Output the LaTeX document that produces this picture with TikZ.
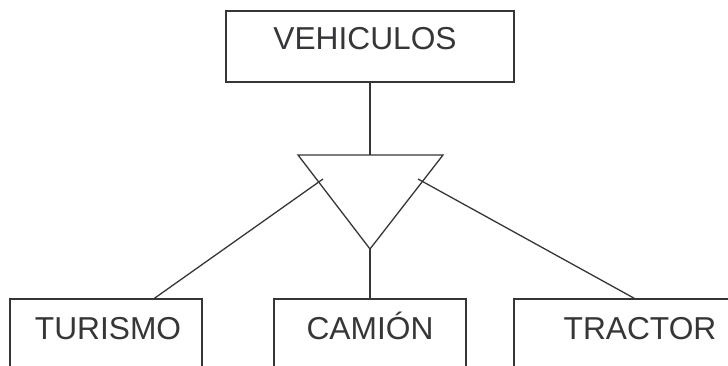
\documentclass[tikz,border=0pt]{standalone}
\usepackage{fontspec}
\setmainfont{Liberation Sans}
\usetikzlibrary{calc}
\definecolor{ink}{HTML}{363638}
\tikzset{
  box/.style={draw=ink, line width=1.3pt, rectangle, inner sep=0pt},
  lbl/.style={anchor=base, inner sep=0pt, text=ink, font=\fontsize{31.7}{38}\selectfont},
  link/.style={draw=ink, line width=1.3pt},
}
\begin{document}
\begin{tikzpicture}[x=1pt, y=-1pt]
  \useasboundingbox (0,0) rectangle (728,366);
  \clip (0,0) rectangle (728,366);

  % parent entity
  \node[box, minimum width=288pt, minimum height=71pt] (veh) at (370,46.5) {};
  \node[lbl] (vehT) at (365,50) {VEHICULOS};

  % child entities (their lower edges run past the page)
  \node[box, minimum width=192pt, minimum height=120pt] (tur) at (106,359) {};
  \node[box, minimum width=192pt, minimum height=120pt] (cam) at (370,359) {};
  \node[box, minimum width=252pt, minimum height=120pt] (tra) at (640,359) {};
  \node[lbl] (turT) at (108,339) {TURISMO};
  \node[lbl] (camT) at (370,339) {CAMIÓN};
  \node[lbl] (traT) at (640,339) {TRACTOR};

  % generalisation triangle
  \coordinate (tA) at (298,155);
  \coordinate (tB) at (443,155);
  \coordinate (tC) at (370,249);
  \coordinate (tTop) at (370,155);
  \draw[link, line join=miter] (tA) -- (tB) -- (tC) -- cycle;

  % attachment points of the side branches
  \coordinate (tL) at (323,179);
  \coordinate (tR) at (418,179);
  \coordinate (turJ) at ($(tur.north west)+(145,0)$);
  \coordinate (traJ) at ($(tra.north west)+(121,0)$);

  % connectors
  \draw[link] (veh.south) -- (tTop);
  \draw[link] (tC) -- (cam.north);
  \draw[link] (tL) -- (turJ);
  \draw[link] (tR) -- (traJ);
\end{tikzpicture}
\end{document}
